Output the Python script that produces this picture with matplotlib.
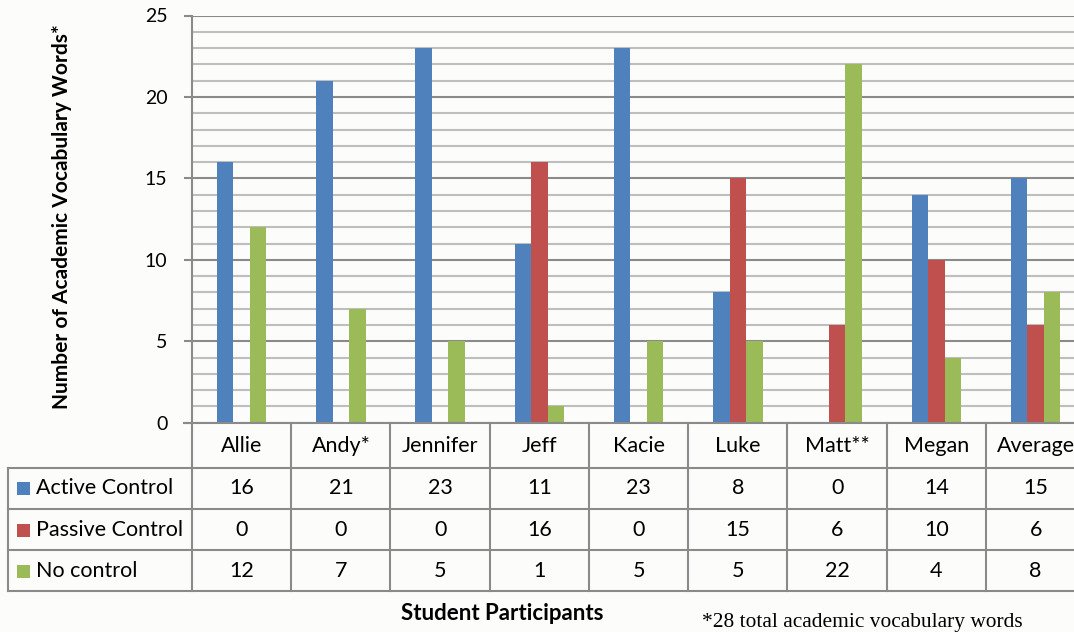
import matplotlib
matplotlib.use("Agg")
import matplotlib.pyplot as plt
import matplotlib.transforms as mtransforms
from matplotlib.patches import Rectangle

categories = ["Allie", "Andy*", "Jennifer", "Jeff", "Kacie", "Luke", "Matt**", "Megan", "Average"]
series_names = ["Active Control", "Passive Control", "No control"]
active = [16, 21, 23, 11, 23, 8, 0, 14, 15]
passive = [0, 0, 0, 16, 0, 15, 6, 10, 6]
no_control = [12, 7, 5, 1, 5, 5, 22, 4, 8]
series_values = [active, passive, no_control]
colors = ["#4F81BD", "#C0504D", "#9BBB59"]
y_ticks = [0, 5, 10, 15, 20, 25]
ylabel = "Number of Academic Vocabulary Words*"
xlabel = "Student Participants"
footnote = "*28 total academic vocabulary words"

W, H = 1074, 632
BG = "#FCFCFA"
plt.rcParams['font.family'] = ['Lato', 'DejaVu Sans']

fig = plt.figure(figsize=(W / 100, H / 100), dpi=100, facecolor=BG)

# layout in pixels
x0, y_zero, y_top = 192.0, 422.7, 15.5
colw = 99.25
ax = fig.add_axes([x0 / W, (H - y_zero) / H, len(categories) * colw / W, (y_zero - y_top) / H])
ax.set_facecolor(BG)

n = len(categories)
bw = 0.166
xs = list(range(n))
for k, (vals, c) in enumerate(zip(series_values, colors)):
    ax.bar([x + (k - 1) * bw for x in xs], vals, width=bw, color=c, zorder=3, linewidth=0)

ax.set_xlim(-0.5, n - 0.5)
ax.set_ylim(0, 25)
ax.set_yticks(y_ticks)
ax.set_yticks(range(0, 26), minor=True)
ax.set_xticks([])
ax.grid(axis='y', which='minor', color='#BEBEBE', linewidth=1.5, zorder=0)
ax.grid(axis='y', which='major', color='#8A8A8A', linewidth=1.5, zorder=1)
for s in ['top', 'right', 'bottom']:
    ax.spines[s].set_visible(False)
ax.spines['left'].set_color('#8A8A8A')
ax.spines['left'].set_linewidth(1.5)
ax.tick_params(axis='y', which='major', length=5.8, width=1.5, color='#8A8A8A',
               direction='out', pad=12, labelsize=14, labelcolor='black')
ax.tick_params(axis='y', which='minor', length=0)

# table in blended coords: x data, y axes fraction
tr = mtransforms.blended_transform_factory(ax.transData, ax.transAxes)
ah = y_zero - y_top
def yf(py):
    return (y_zero - py) / ah

lc = '#8A8A8A'
lw = 1.5
rows_py = [y_zero, 468.0, 509.0, 550.0, 591.5]
left_x = -0.5 - (x0 - 8) / colw
right_x = n - 0.5

# zero axis line extended
ax.plot([-0.5 - 8 / colw, right_x], [0, 0], color=lc, lw=lw, transform=tr, clip_on=False, zorder=5)
# horizontal row lines
for py in rows_py[1:]:
    ax.plot([left_x, right_x], [yf(py)] * 2, color=lc, lw=lw, transform=tr, clip_on=False, zorder=5)
# vertical lines
ax.plot([left_x, left_x], [yf(rows_py[1]), yf(rows_py[-1])], color=lc, lw=lw, transform=tr, clip_on=False)
for i in range(n + 1):
    xb = i - 0.5
    ax.plot([xb, xb], [yf(rows_py[0]), yf(rows_py[-1])], color=lc, lw=lw, transform=tr, clip_on=False)

fs = 15.5
# header labels
for i, c in enumerate(categories):
    ax.text(i, yf((rows_py[0] + rows_py[1]) / 2 + 1), c, ha='center', va='center', fontsize=fs,
            transform=tr, clip_on=False)
# rows
for r, (name, vals, col) in enumerate(zip(series_names, series_values, colors)):
    ymid = (rows_py[r + 1] + rows_py[r + 2]) / 2
    sq = 13 / colw
    ax.add_patch(Rectangle((left_x + 9 / colw, yf(ymid + 7)), sq, 13 / ah, facecolor=col,
                           edgecolor='none', transform=tr, clip_on=False))
    ax.text(left_x + 28 / colw, yf(ymid), name, ha='left', va='center', fontsize=fs,
            transform=tr, clip_on=False)
    for i, v in enumerate(vals):
        ax.text(i, yf(ymid), str(v), ha='center', va='center', fontsize=fs,
                transform=tr, clip_on=False)

fig.text(62 / W, 1 - 217 / H, ylabel, rotation=90, ha='center', va='center',
         fontsize=15, fontweight='bold')
fig.text(502 / W, 1 - 613 / H, xlabel, ha='center', va='center', fontsize=16, fontweight='bold')
fig.text(862 / W, 1 - 622 / H, footnote, ha='center', va='center', fontsize=15.4,
         family=['Liberation Serif', 'DejaVu Serif'])

fig.savefig("out.png", dpi=100, facecolor=BG)
